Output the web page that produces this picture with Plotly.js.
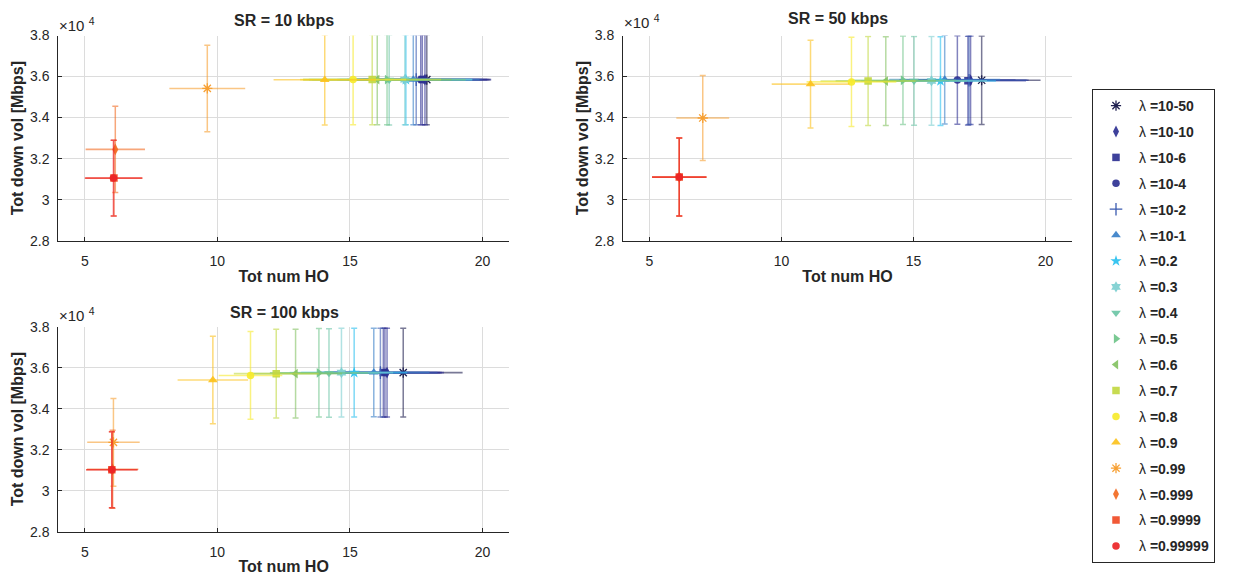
<!DOCTYPE html>
<html>
<head>
<meta charset="utf-8">
<script src="https://cdn.plot.ly/plotly-3.0.1.min.js"></script>
<style>html,body{margin:0;padding:0;background:#fff;}#chart{width:1245px;height:575px;}</style>
</head>
<body>
<div id="chart"></div>
<script>
// ---------- data ----------
const lambdas = ['10-50','10-10','10-6','10-4','10-2','10-1','0.2','0.3','0.4','0.5','0.6','0.7','0.8','0.9','0.99','0.999','0.9999','0.99999'];
const colors  = ['#1f2050','#2e3192','#2e3192','#2e3192','#3b5bb0','#3a80c8','#29c0ef','#7dcfd0','#6dc5a6','#6fc48a','#84c263','#c2d842','#f6ea2c','#fcc21e','#f7a033','#f26a22','#f04b25','#ec2426'];
const symbols = ['asterisk-open','diamond-tall','square','circle','cross-thin-open','triangle-up','star','hexagram','triangle-down','triangle-right','triangle-left','square','circle','triangle-up','asterisk-open','diamond-tall','square','circle'];

const srTitles = ['SR = 10 kbps','SR = 50 kbps','SR = 100 kbps'];

// SR = 10 kbps
const ho10   = [17.90,17.83,17.73,17.67,17.50,17.39,17.11,17.07,16.48,16.40,16.03,15.84,15.12,14.05,9.62,6.15,6.10,6.08];
const vol10  = [35850,35850,35850,35850,35850,35850,35850,35850,35840,35850,35850,35850,35850,35840,35420,32450,31050,31050];
const hoErr10  = [2.40,2.50,2.50,2.50,2.50,2.50,2.50,2.55,2.90,2.95,2.80,2.60,2.00,1.93,1.43,1.12,1.08,1.08];
const volErr10 = [2200,2200,2200,2200,2200,2200,2200,2200,2200,2200,2200,2200,2200,2200,2110,2100,1850,1850];

// SR = 50 kbps
const ho50   = [17.58,17.16,17.06,16.66,17.10,16.18,16.02,15.68,15.02,14.60,13.95,13.28,12.65,11.10,7.02,6.13,6.13,6.13];
const vol50  = [35820,35820,35800,35830,35820,35850,35780,35790,35790,35820,35780,35780,35740,35630,33980,31100,31100,31100];
const hoErr50  = [2.23,2.20,2.20,2.20,2.20,2.10,2.10,2.10,2.00,2.00,1.90,1.80,1.70,1.47,1.00,1.03,1.03,1.03];
const volErr50 = [2160,2160,2160,2160,2160,2160,2160,2160,2160,2160,2160,2170,2180,2140,2070,1900,1900,1900];

// SR = 100 kbps
const ho100  = [17.01,16.40,16.26,16.32,16.15,15.90,15.16,14.68,14.21,13.83,12.95,12.22,11.25,9.83,6.08,6.05,6.02,6.02];
const vol100 = [35760,35760,35760,35760,35760,35770,35760,35760,35740,35750,35710,35710,35620,35400,32360,31050,31020,31020];
const hoErr100  = [2.24,2.15,2.15,2.15,2.15,2.10,2.00,1.95,1.90,1.85,1.75,1.60,1.20,1.33,0.99,0.97,0.97,0.97];
const volErr100 = [2160,2160,2160,2160,2160,2160,2160,2160,2160,2160,2160,2160,2140,2130,2140,1900,1850,1850];

const yTickVals = [28000,30000,32000,34000,36000,38000];
const yTickText = ['2.8','3','3.2','3.4','3.6','3.8'];
const xTickVals = [5,10,15,20];

// ---------- build ----------
function rgba(hex, a){
  const r=parseInt(hex.slice(1,3),16), g=parseInt(hex.slice(3,5),16), b=parseInt(hex.slice(5,7),16);
  return 'rgba('+r+','+g+','+b+','+a+')';
}
const sets = [
  {ho:ho10, vol:vol10, hoErr:hoErr10, volErr:volErr10, xa:'x', ya:'y'},
  {ho:ho50, vol:vol50, hoErr:hoErr50, volErr:volErr50, xa:'x2', ya:'y2'},
  {ho:ho100, vol:vol100, hoErr:hoErr100, volErr:volErr100, xa:'x3', ya:'y3'}
];
const FONT = 'Liberation Sans, Arial, sans-serif';
const traces = [];
sets.forEach((s, si) => {
  lambdas.forEach((lam, i) => {
    const open = symbols[i].indexOf('open') >= 0;
    const sym = symbols[i];
    traces.push({
      type:'scatter', mode:'markers',
      x:[s.ho[i]], y:[s.vol[i]],
      xaxis:s.xa, yaxis:s.ya,
      name:'λ <b>=' + lam + '</b>',
      legendgroup:'g'+i,
      showlegend: si === 0,
      marker:{symbol:sym, size: (sym==='circle'||sym==='square') ? 7.5 : (sym==='cross-thin-open' ? 9 : 8.5),
              color: rgba(colors[i], open ? 1 : 0.92),
              line:{color: open ? colors[i] : 'rgba(0,0,0,0)', width: open ? 1.3 : 0}},
      error_y:{type:'data', symmetric:true, array:[s.volErr[i]], color:rgba(colors[i],0.6), thickness:1.5, width:3},
      error_x:{type:'data', symmetric:true, array:[s.hoErr[i]], color:rgba(colors[i],0.6), thickness:1.6, width:0},
      cliponaxis:true
    });
  });
});

const W=1245, H=575;
const fx = p => p/W, fy = p => 1 - p/H;
const axCommon = {
  showline:true, linecolor:'#262626', linewidth:1, mirror:false,
  ticks:'inside', ticklen:4, tickcolor:'#262626', tickwidth:1,
  showgrid:true, gridcolor:'#dcdcdc', gridwidth:1, zeroline:false,
  tickfont:{family:FONT, size:14, color:'#262626'},
  fixedrange:true
};
const titleFont = {family:FONT, size:16, color:'#262626', weight:'bold'};
function xax(dom, anchor){
  return Object.assign({}, axCommon, {domain:dom, anchor:anchor, range:[4,21], tickvals:xTickVals,
    ticklabelstandoff:7,
    title:{text:'Tot num HO', font:titleFont, standoff:3}});
}
function yax(dom, anchor){
  return Object.assign({}, axCommon, {domain:dom, anchor:anchor, range:[28000,38000], tickvals:yTickVals, ticktext:yTickText,
    ticklabelstandoff:5,
    title:{text:'Tot down vol [Mbps]', font:titleFont, standoff:2}});
}

const dom1x=[fx(58.3), fx(509)], dom2x=[fx(623), fx(1072)];
const domTop=[fy(240.7), fy(35.5)], domBot=[fy(531.7), fy(326.7)];

const subFont = {family:FONT, size:16, color:'#262626', weight:'bold'};
const expFont = {family:FONT, size:15, color:'#262626'};
const expText = '×10 <sup>4</sup>';
const annotations = [
  {text:srTitles[0], x:fx(284), y:fy(20), xref:'paper', yref:'paper', showarrow:false, font:subFont, xanchor:'center', yanchor:'middle'},
  {text:srTitles[1], x:fx(838), y:fy(19), xref:'paper', yref:'paper', showarrow:false, font:subFont, xanchor:'center', yanchor:'middle'},
  {text:srTitles[2], x:fx(284), y:fy(312), xref:'paper', yref:'paper', showarrow:false, font:subFont, xanchor:'center', yanchor:'middle'},
  {text:expText, x:fx(57), y:fy(24), xref:'paper', yref:'paper', showarrow:false, font:expFont, xanchor:'left', yanchor:'middle'},
  {text:expText, x:fx(622), y:fy(22), xref:'paper', yref:'paper', showarrow:false, font:expFont, xanchor:'left', yanchor:'middle'},
  {text:expText, x:fx(57), y:fy(315), xref:'paper', yref:'paper', showarrow:false, font:expFont, xanchor:'left', yanchor:'middle'}
];

const layout = {
  width:W, height:H,
  margin:{l:0, r:0, t:0, b:0},
  paper_bgcolor:'#ffffff', plot_bgcolor:'#ffffff',
  font:{family:FONT, color:'#262626'},
  xaxis:xax(dom1x,'y'), yaxis:yax(domTop,'x'),
  xaxis2:xax(dom2x,'y2'), yaxis2:yax(domTop,'x2'),
  xaxis3:xax(dom1x,'y3'), yaxis3:yax(domBot,'x3'),
  showlegend:true,
  legend:{x:fx(1092), y:fy(89), xanchor:'left', yanchor:'top',
    bgcolor:'#ffffff', bordercolor:'#262626', borderwidth:1,
    font:{family:FONT, size:14, color:'#262626'},
    tracegroupgap:4.7, traceorder:'grouped', itemsizing:'trace', itemwidth:36},
  annotations:annotations
};

Plotly.newPlot('chart', traces, layout, {displayModeBar:false, staticPlot:true});
</script>
</body>
</html>
